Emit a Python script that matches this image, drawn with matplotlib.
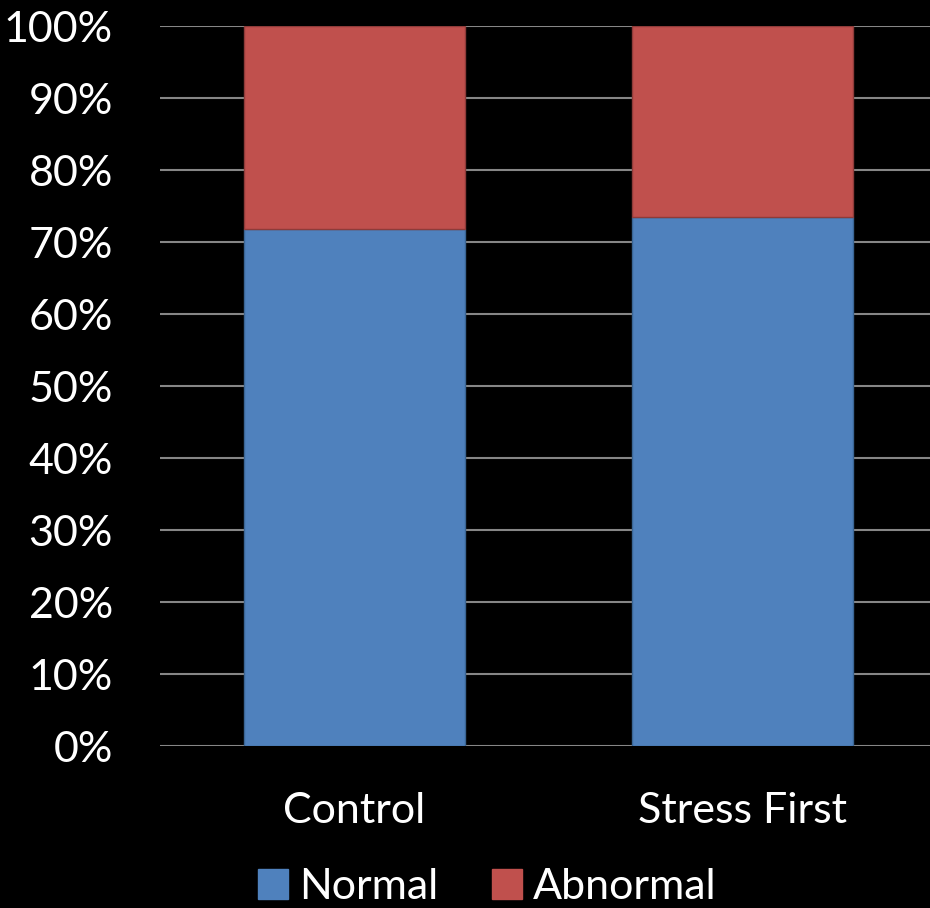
import numpy as np
import matplotlib.pyplot as plt
from matplotlib.patches import Patch
from matplotlib.ticker import FuncFormatter

categories = ['Control', 'Stress First']
normal = [71.8, 73.5]
abnormal = [28.2, 26.5]

plt.rcParams['font.family'] = ['Lato', 'DejaVu Sans']

fig = plt.figure(figsize=(9.3, 9.08), dpi=100, facecolor='black')
ax = fig.add_axes([160 / 930, (908 - 746) / 908, 770 / 930, 720 / 908], facecolor='black')

x = np.arange(len(categories))
blue = '#4F81BD'
red = '#C0504D'
ax.bar(x, normal, width=0.57, color=blue, edgecolor='#3A6594', linewidth=1, zorder=3)
ax.bar(x, abnormal, bottom=normal, width=0.57, color=red, edgecolor='#8E3B39', linewidth=1, zorder=3)

ax.set_xlim(-0.501, 1.484)
ax.set_ylim(0, 100)
ax.set_yticks(np.arange(0, 101, 10))
ax.yaxis.set_major_formatter(FuncFormatter(lambda v, p: f'{int(v)}%'))
ax.grid(axis='y', color='#868686', linewidth=1.5, zorder=0)
ax.set_xticks(x)
ax.set_xticklabels(categories)
ax.tick_params(axis='both', length=0, colors='white', labelsize=31)
ax.tick_params(axis='y', pad=34)
ax.tick_params(axis='x', pad=33)
for s in ax.spines.values():
    s.set_visible(False)

handles = [Patch(color=blue, label='Normal'), Patch(color=red, label='Abnormal')]
leg = fig.legend(handles=handles, loc='center', bbox_to_anchor=(487 / 930, (908 - 887) / 908),
                 ncol=2, frameon=False, fontsize=31, handlelength=0.7, handleheight=0.7,
                 handletextpad=0.25, columnspacing=1.25, labelcolor='white')

fig.savefig('out.png', dpi=100, facecolor='black')
